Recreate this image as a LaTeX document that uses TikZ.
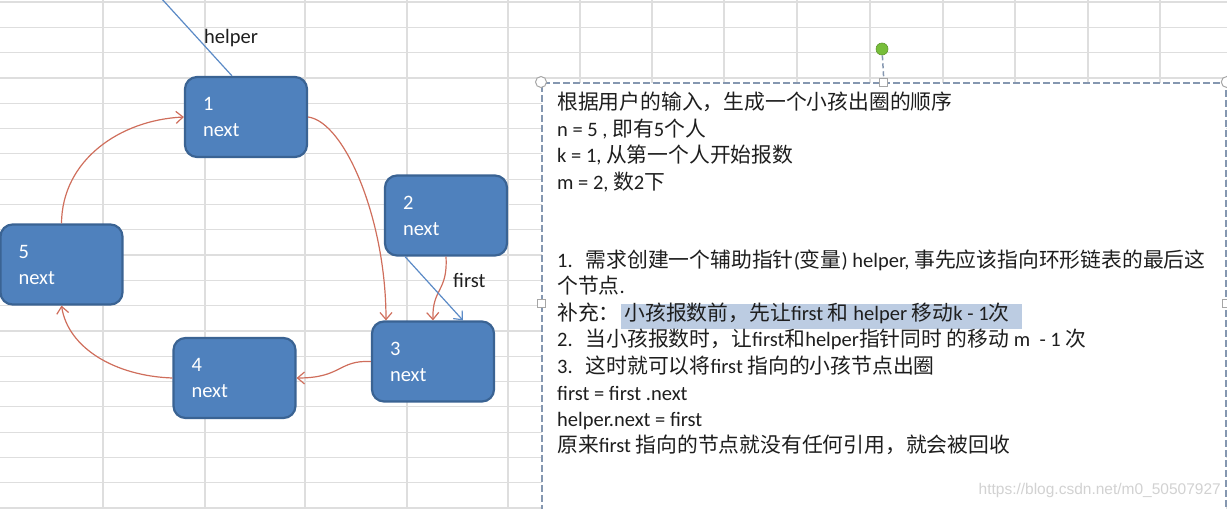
\documentclass[tikz,border=0pt]{standalone}
\usepackage{fontspec}
\setmainfont{Carlito}
\newfontfamily\cjkfam{Noto Sans CJK SC}
\newfontfamily\wmfam{Liberation Sans}
\usetikzlibrary{arrows.meta}
\definecolor{nodefill}{HTML}{4F81BD}
\definecolor{nodeline}{HTML}{3A6393}
\definecolor{redarrow}{HTML}{CF6E5C}
\definecolor{bluearrow}{HTML}{5B8AC6}
\definecolor{gridc}{HTML}{DEDEDE}
\definecolor{dashc}{HTML}{8597B0}
\definecolor{hilite}{HTML}{BCCCE2}
\definecolor{greenh}{HTML}{77BE3A}
\definecolor{txt}{HTML}{1E1E1E}
\newcommand\zh[1]{{\fontsize{20.8}{25}\selectfont\cjkfam #1}}
\tikzset{
  nbox/.style={draw=nodeline, line width=2.2pt, fill=nodefill, rounded corners=12pt,
    minimum width=122pt, minimum height=80pt, text width=86pt, align=left,
    text=white, inner sep=0pt, font=\fontsize{20.5}{26}\selectfont},
  link/.style={draw=redarrow, line width=1.2pt, -{Straight Barb[length=7pt,width=12pt]}},
  ptr/.style={draw=bluearrow, line width=1.2pt},
  lbl/.style={text=txt, inner sep=0pt, font=\fontsize{20.5}{24}\selectfont},
  tline/.style={anchor=base west, inner sep=0pt, text=txt, font=\fontsize{20.5}{24}\selectfont},
  handle/.style={draw=gray!70, fill=white, line width=1pt, inner sep=0pt},
}
\begin{document}
\begin{tikzpicture}[x=1pt,y=-1pt]
\useasboundingbox (0,0) rectangle (1227,509);
% spreadsheet grid
\foreach \k in {0,...,20} \draw[gridc, line width=1.2pt] (0,2+25.3*\k) -- (1227,2+25.3*\k);
\foreach \x in {103,205,305,407,508,580,652,724,797,870,943,1015,1088,1160}
  \draw[gridc, line width=1.2pt] (\x,0) -- (\x,509);
% nodes
\node[nbox] (n1) at (246,117) {1\\next};
\node[nbox] (n2) at (446,215.5) {2\\next};
\node[nbox] (n3) at (433,361.5) {3\\next};
\node[nbox] (n4) at (234.5,378) {4\\next};
\node[nbox] (n5) at (61.5,264.5) {5\\next};
% links
\draw[link] (n1.east) .. controls (345,122) and (386,220) .. ([xshift=-47pt]n3.north);
\draw[link] (n2.south) .. controls (448,292) and (432,288) .. (n3.north);
\draw[link] (n3.west) .. controls (338,360) and (342,378) .. (n4.east);
\draw[link] (n4.west) .. controls (115,376) and (68,348) .. (n5.south);
\draw[link] (n5.north) .. controls (62,160) and (120,120) .. (n1.west);
% pointers
\coordinate (hstart) at (161,-2);
\draw[ptr] (hstart) -- ([xshift=-14pt]n1.north);
\node[lbl, anchor=west] (hl) at (204,38) {helper};
\draw[ptr, -{Straight Barb[length=7pt,width=12pt]}] ([xshift=-41pt]n2.south) -- ([xshift=30pt]n3.north);
\node[lbl, anchor=west] (fl) at (453,280) {first};
% text box
\node[draw=dashc, line width=1.8pt, dash pattern=on 7pt off 3pt, fill=white,
  anchor=north west, minimum width=684pt, minimum height=440pt, inner sep=0pt] (tbox) at (541,82) {};
\node[handle, circle, minimum size=11pt] (hnw) at (tbox.north west) {};
\node[handle, circle, minimum size=11pt] (hne) at (tbox.north east) {};
\node[handle, minimum size=8pt] (hn) at (tbox.north) {};
\node[handle, minimum size=8pt] (hw) at (tbox.west |- 0,303) {};
\node[handle, minimum size=8pt] (he) at (tbox.east |- 0,303) {};
\node[circle, fill=greenh, draw=greenh!80!black, line width=0.6pt, minimum size=12pt, inner sep=0pt] (rot) at (882,49) {};
\draw[dashc, line width=1.5pt, dash pattern=on 5pt off 3pt] (rot) -- (hn);
% highlight
\fill[hilite] (621,304) rectangle (1022,329);
% text lines
\node[tline] (t1) at (557,109.5) {\zh{根据用户的输入，生成一个小孩出圈的顺序}};
\node[tline] (t2) at (557,136) {n = 5 , \zh{即有}5\zh{个人}};
\node[tline] (t3) at (557,162.5) {k = 1, \zh{从第一个人开始报数}};
\node[tline] (t4) at (557,189) {m = 2, \zh{数}2\zh{下}};
\node[tline] (t5) at (557,267) {1.\hspace{13pt}\zh{需求创建一个辅助指针}(\zh{变量}) helper, \zh{事先应该指向环形链表的最后这}};
\node[tline] (t6) at (557,293.5) {\zh{个节点}.};
\node[tline] (t7) at (557,320) {\zh{补充：}\hspace{5pt}\zh{小孩报数前，先让}first \zh{和} helper \zh{移动}k - 1\zh{次}};
\node[tline] (t8) at (557,346.5) {2.\hspace{13pt}\zh{当小孩报数时，让}first\zh{和}helper\zh{指针同时} \zh{的移动} m\ \ - 1 \zh{次}};
\node[tline] (t9) at (557,373) {3.\hspace{13pt}\zh{这时就可以将}first \zh{指向的小孩节点出圈}};
\node[tline] (t10) at (557,400) {first = first .next};
\node[tline] (t11) at (557,426) {helper.next = first};
\node[tline] (t12) at (557,452) {\zh{原来}first \zh{指向的节点就没有任何引用，就会被回收}};
% watermark
\node[anchor=east, inner sep=0pt, text=gray!35, font=\wmfam\fontsize{15.5}{18}\selectfont] (wm) at (1221,490) {https://blog.csdn.net/m0\_50507927};
\end{tikzpicture}
\end{document}
